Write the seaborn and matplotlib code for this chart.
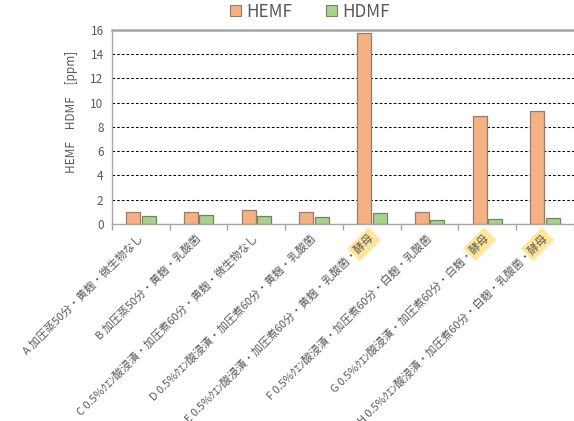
import numpy as np
import pandas as pd
import matplotlib
matplotlib.use("Agg")
import matplotlib.pyplot as plt
from matplotlib.patches import Patch
import seaborn as sns

sns.set_theme(style="white")
plt.rcParams["font.family"] = ["Noto Sans CJK JP", "DejaVu Sans"]

# Samples (treatment conditions)
samples = [
    "A 加圧蒸50分・黄麹・微生物なし",
    "B 加圧蒸50分・黄麹・乳酸菌",
    "C 0.5%ｸｴﾝ酸浸漬・加圧煮60分・黄麹・微生物なし",
    "D 0.5%ｸｴﾝ酸浸漬・加圧煮60分・黄麹・乳酸菌",
    "E 0.5%ｸｴﾝ酸浸漬・加圧煮60分・黄麹・乳酸菌・酵母",
    "F 0.5%ｸｴﾝ酸浸漬・加圧煮60分・白麹・乳酸菌",
    "G 0.5%ｸｴﾝ酸浸漬・加圧煮60分・白麹・酵母",
    "H 0.5%ｸｴﾝ酸浸漬・加圧煮60分・白麹・乳酸菌・酵母",
]
# Concentrations [ppm]
hemf = [1.02, 1.02, 1.13, 1.02, 15.73, 1.0, 8.9, 9.35]
hdmf = [0.66, 0.74, 0.66, 0.58, 0.93, 0.36, 0.41, 0.47]
compounds = ["HEMF", "HDMF"]
yticks = [0, 2, 4, 6, 8, 10, 12, 14, 16]
highlight_word = "酵母"

face_colors = {"HEMF": "#F4B183", "HDMF": "#A9D18E"}
edge_colors = {"HEMF": "#9C7B66", "HDMF": "#6B8A58"}
text_gray = "#595959"
axis_gray = "#A6A6A6"

df = pd.DataFrame({
    "sample": samples * 2,
    "ppm": hemf + hdmf,
    "compound": [compounds[0]] * len(samples) + [compounds[1]] * len(samples),
})

fig = plt.figure(figsize=(5.74, 4.21), dpi=100)
ax = fig.add_axes([0.195, 0.468, 0.805, 0.461])
ax.set_axisbelow(True)

sns.barplot(data=df, x="sample", y="ppm", hue="compound", order=samples,
            hue_order=compounds, palette=face_colors, saturation=1,
            width=0.54, gap=0.1, linewidth=0.9, errorbar=None, ax=ax,
            legend=False)

for cont, name in zip(ax.containers, compounds):
    for bar in cont:
        bar.set_edgecolor(edge_colors[name])

ax.set_xlim(-0.5, len(samples) - 0.5)
ax.set_ylim(yticks[0], yticks[-1])
ax.set_yticks(yticks)
ax.set_yticklabels([str(v) for v in yticks], color=text_gray, fontsize=8.5)
ax.tick_params(axis="y", length=0, pad=6)

for v in yticks[1:-1]:
    ax.axhline(v, color="black", lw=0.75, ls=(0, (2.5, 2)), zorder=0.5)

# category boundary ticks
ax.set_xticks(np.arange(len(samples)))
ax.set_xticks(np.arange(len(samples) + 1) - 0.5, minor=True)
ax.tick_params(axis="x", which="major", length=0, pad=9)
ax.tick_params(axis="x", which="minor", length=4, color=axis_gray, width=1,
               direction="out", bottom=True)
ax.set_xticklabels(samples, rotation=45, ha="right", va="center",
                   rotation_mode="anchor", color=text_gray, fontsize=7.9)
ax.set_xlabel("")
ax.set_ylabel("")

for side in ["left", "bottom"]:
    ax.spines[side].set_color(axis_gray)
    ax.spines[side].set_linewidth(1.0)
ax.spines["top"].set_color(axis_gray)
ax.spines["top"].set_linewidth(1.8)
ax.spines["right"].set_visible(False)

# yellow marker behind the yeast ("酵母") keyword
fig.canvas.draw()
for lab in ax.get_xticklabels():
    s = lab.get_text()
    if s.endswith(highlight_word):
        x, y = lab.get_position()
        ax.text(x, y, highlight_word, transform=lab.get_transform(),
                rotation=45, ha="right", va="center", rotation_mode="anchor",
                fontsize=7.9, color=(0, 0, 0, 0), clip_on=False, zorder=0.4,
                bbox=dict(boxstyle="square,pad=0.35", fc="#FFE699", ec="none"))

fig.text(72 / 574, 1 - 112 / 421, "HEMF　HDMF　[ppm]", rotation=90,
         ha="center", va="center", color=text_gray, fontsize=8.5)

handles = [Patch(facecolor=face_colors[c], edgecolor=edge_colors[c], lw=0.8)
           for c in compounds]
fig.legend(handles, compounds, loc="center", bbox_to_anchor=(0.54, 0.972),
           ncol=2, frameon=False, fontsize=12.3, labelcolor=text_gray,
           handlelength=0.65, handleheight=0.65, handletextpad=0.3,
           columnspacing=2.0)

fig.savefig("out.png", dpi=100)
